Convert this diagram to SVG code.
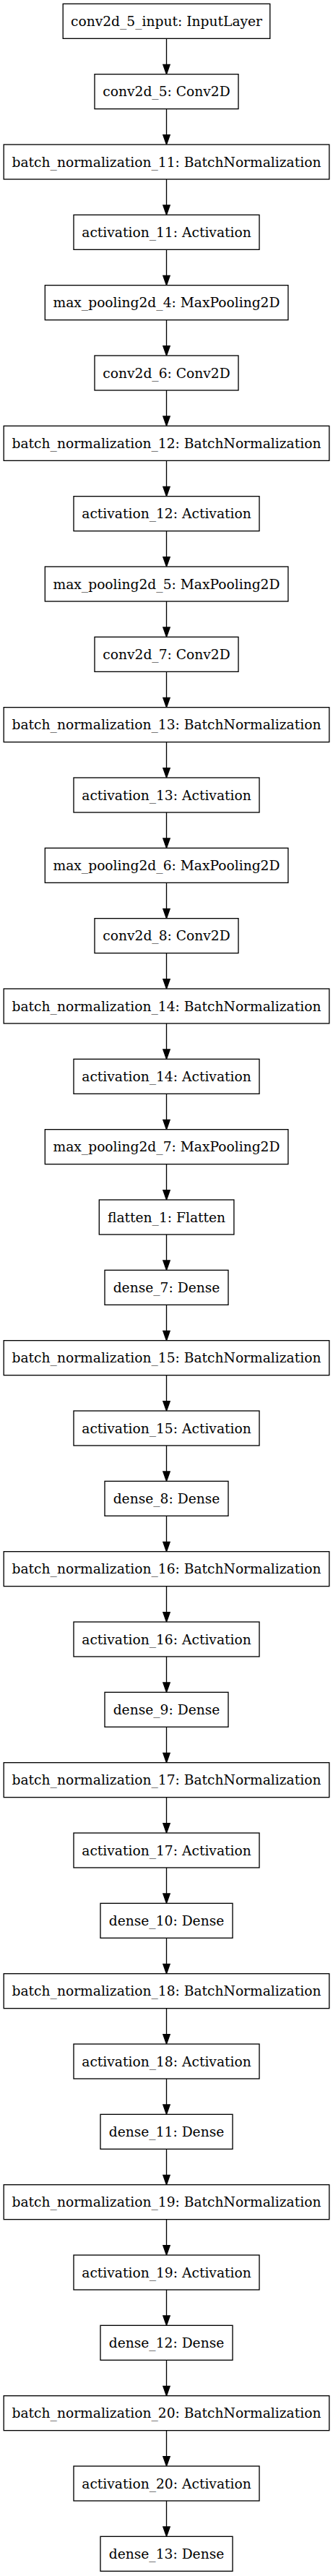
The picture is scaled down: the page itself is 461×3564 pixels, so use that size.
<svg xmlns="http://www.w3.org/2000/svg" width="461" height="3564" viewBox="0 0 461 3564">
<style>
rect{fill:#fff;stroke:#000;stroke-width:1.33}
text{font-family:"DejaVu Serif",serif;font-size:18.67px;text-anchor:middle;fill:#000}
.e line{stroke:#000;stroke-width:1.33}
</style>
<defs>
<marker id="ah" markerUnits="userSpaceOnUse" markerWidth="14" markerHeight="10" refX="0" refY="4.67" orient="auto" overflow="visible">
<path d="M0,0 L13.33,4.67 L0,9.33 Z" fill="#000" stroke="#000" stroke-width="1.33"/>
</marker>
</defs>
<rect x="0" y="0" width="461" height="3564" style="stroke:none"/>
<g class="e" id="edges">
<line x1="230.5" y1="53.33" x2="230.5" y2="89.33" marker-end="url(#ah)"/>
<line x1="230.5" y1="150.67" x2="230.5" y2="186.67" marker-end="url(#ah)"/>
<line x1="230.5" y1="248.00" x2="230.5" y2="284.00" marker-end="url(#ah)"/>
<line x1="230.5" y1="345.33" x2="230.5" y2="381.33" marker-end="url(#ah)"/>
<line x1="230.5" y1="442.67" x2="230.5" y2="478.67" marker-end="url(#ah)"/>
<line x1="230.5" y1="540.00" x2="230.5" y2="576.00" marker-end="url(#ah)"/>
<line x1="230.5" y1="637.33" x2="230.5" y2="673.33" marker-end="url(#ah)"/>
<line x1="230.5" y1="734.67" x2="230.5" y2="770.67" marker-end="url(#ah)"/>
<line x1="230.5" y1="832.00" x2="230.5" y2="868.00" marker-end="url(#ah)"/>
<line x1="230.5" y1="929.33" x2="230.5" y2="965.33" marker-end="url(#ah)"/>
<line x1="230.5" y1="1026.67" x2="230.5" y2="1062.67" marker-end="url(#ah)"/>
<line x1="230.5" y1="1124.00" x2="230.5" y2="1160.00" marker-end="url(#ah)"/>
<line x1="230.5" y1="1221.33" x2="230.5" y2="1257.33" marker-end="url(#ah)"/>
<line x1="230.5" y1="1318.67" x2="230.5" y2="1354.67" marker-end="url(#ah)"/>
<line x1="230.5" y1="1416.00" x2="230.5" y2="1452.00" marker-end="url(#ah)"/>
<line x1="230.5" y1="1513.33" x2="230.5" y2="1549.33" marker-end="url(#ah)"/>
<line x1="230.5" y1="1610.67" x2="230.5" y2="1646.67" marker-end="url(#ah)"/>
<line x1="230.5" y1="1708.00" x2="230.5" y2="1744.00" marker-end="url(#ah)"/>
<line x1="230.5" y1="1805.33" x2="230.5" y2="1841.33" marker-end="url(#ah)"/>
<line x1="230.5" y1="1902.67" x2="230.5" y2="1938.67" marker-end="url(#ah)"/>
<line x1="230.5" y1="2000.00" x2="230.5" y2="2036.00" marker-end="url(#ah)"/>
<line x1="230.5" y1="2097.33" x2="230.5" y2="2133.33" marker-end="url(#ah)"/>
<line x1="230.5" y1="2194.67" x2="230.5" y2="2230.67" marker-end="url(#ah)"/>
<line x1="230.5" y1="2292.00" x2="230.5" y2="2328.00" marker-end="url(#ah)"/>
<line x1="230.5" y1="2389.33" x2="230.5" y2="2425.33" marker-end="url(#ah)"/>
<line x1="230.5" y1="2486.67" x2="230.5" y2="2522.67" marker-end="url(#ah)"/>
<line x1="230.5" y1="2584.00" x2="230.5" y2="2620.00" marker-end="url(#ah)"/>
<line x1="230.5" y1="2681.33" x2="230.5" y2="2717.33" marker-end="url(#ah)"/>
<line x1="230.5" y1="2778.67" x2="230.5" y2="2814.67" marker-end="url(#ah)"/>
<line x1="230.5" y1="2876.00" x2="230.5" y2="2912.00" marker-end="url(#ah)"/>
<line x1="230.5" y1="2973.33" x2="230.5" y2="3009.33" marker-end="url(#ah)"/>
<line x1="230.5" y1="3070.67" x2="230.5" y2="3106.67" marker-end="url(#ah)"/>
<line x1="230.5" y1="3168.00" x2="230.5" y2="3204.00" marker-end="url(#ah)"/>
<line x1="230.5" y1="3265.33" x2="230.5" y2="3301.33" marker-end="url(#ah)"/>
<line x1="230.5" y1="3362.67" x2="230.5" y2="3398.67" marker-end="url(#ah)"/>
<line x1="230.5" y1="3460.00" x2="230.5" y2="3496.00" marker-end="url(#ah)"/>
</g>
<g id="n0"><rect x="87.2" y="5.33" width="286.6" height="48"/><text x="230.5" y="35.83">conv2d_5_input: InputLayer</text></g>
<g id="n1"><rect x="131" y="102.67" width="199" height="48"/><text x="230.5" y="133.17">conv2d_5: Conv2D</text></g>
<g id="n2"><rect x="5.2" y="200.00" width="450.6" height="48"/><text x="230.5" y="230.50">batch_normalization_11: BatchNormalization</text></g>
<g id="n3"><rect x="102" y="297.33" width="257" height="48"/><text x="230.5" y="327.83">activation_11: Activation</text></g>
<g id="n4"><rect x="62.3" y="394.67" width="336.6" height="48"/><text x="230.5" y="425.17">max_pooling2d_4: MaxPooling2D</text></g>
<g id="n5"><rect x="131" y="492.00" width="199" height="48"/><text x="230.5" y="522.50">conv2d_6: Conv2D</text></g>
<g id="n6"><rect x="5.2" y="589.33" width="450.6" height="48"/><text x="230.5" y="619.83">batch_normalization_12: BatchNormalization</text></g>
<g id="n7"><rect x="102" y="686.67" width="257" height="48"/><text x="230.5" y="717.17">activation_12: Activation</text></g>
<g id="n8"><rect x="62.3" y="784.00" width="336.6" height="48"/><text x="230.5" y="814.50">max_pooling2d_5: MaxPooling2D</text></g>
<g id="n9"><rect x="131" y="881.33" width="199" height="48"/><text x="230.5" y="911.83">conv2d_7: Conv2D</text></g>
<g id="n10"><rect x="5.2" y="978.67" width="450.6" height="48"/><text x="230.5" y="1009.17">batch_normalization_13: BatchNormalization</text></g>
<g id="n11"><rect x="102" y="1076.00" width="257" height="48"/><text x="230.5" y="1106.50">activation_13: Activation</text></g>
<g id="n12"><rect x="62.3" y="1173.33" width="336.6" height="48"/><text x="230.5" y="1203.83">max_pooling2d_6: MaxPooling2D</text></g>
<g id="n13"><rect x="131" y="1270.67" width="199" height="48"/><text x="230.5" y="1301.17">conv2d_8: Conv2D</text></g>
<g id="n14"><rect x="5.2" y="1368.00" width="450.6" height="48"/><text x="230.5" y="1398.50">batch_normalization_14: BatchNormalization</text></g>
<g id="n15"><rect x="102" y="1465.33" width="257" height="48"/><text x="230.5" y="1495.83">activation_14: Activation</text></g>
<g id="n16"><rect x="62.3" y="1562.67" width="336.6" height="48"/><text x="230.5" y="1593.17">max_pooling2d_7: MaxPooling2D</text></g>
<g id="n17"><rect x="137.3" y="1660.00" width="186.6" height="48"/><text x="230.5" y="1690.50">flatten_1: Flatten</text></g>
<g id="n18"><rect x="145" y="1757.33" width="171" height="48"/><text x="230.5" y="1787.83">dense_7: Dense</text></g>
<g id="n19"><rect x="5.2" y="1854.67" width="450.6" height="48"/><text x="230.5" y="1885.17">batch_normalization_15: BatchNormalization</text></g>
<g id="n20"><rect x="102" y="1952.00" width="257" height="48"/><text x="230.5" y="1982.50">activation_15: Activation</text></g>
<g id="n21"><rect x="145" y="2049.33" width="171" height="48"/><text x="230.5" y="2079.83">dense_8: Dense</text></g>
<g id="n22"><rect x="5.2" y="2146.67" width="450.6" height="48"/><text x="230.5" y="2177.17">batch_normalization_16: BatchNormalization</text></g>
<g id="n23"><rect x="102" y="2244.00" width="257" height="48"/><text x="230.5" y="2274.50">activation_16: Activation</text></g>
<g id="n24"><rect x="145" y="2341.33" width="171" height="48"/><text x="230.5" y="2371.83">dense_9: Dense</text></g>
<g id="n25"><rect x="5.2" y="2438.67" width="450.6" height="48"/><text x="230.5" y="2469.17">batch_normalization_17: BatchNormalization</text></g>
<g id="n26"><rect x="102" y="2536.00" width="257" height="48"/><text x="230.5" y="2566.50">activation_17: Activation</text></g>
<g id="n27"><rect x="139" y="2633.33" width="183" height="48"/><text x="230.5" y="2663.83">dense_10: Dense</text></g>
<g id="n28"><rect x="5.2" y="2730.67" width="450.6" height="48"/><text x="230.5" y="2761.17">batch_normalization_18: BatchNormalization</text></g>
<g id="n29"><rect x="102" y="2828.00" width="257" height="48"/><text x="230.5" y="2858.50">activation_18: Activation</text></g>
<g id="n30"><rect x="139" y="2925.33" width="183" height="48"/><text x="230.5" y="2955.83">dense_11: Dense</text></g>
<g id="n31"><rect x="5.2" y="3022.67" width="450.6" height="48"/><text x="230.5" y="3053.17">batch_normalization_19: BatchNormalization</text></g>
<g id="n32"><rect x="102" y="3120.00" width="257" height="48"/><text x="230.5" y="3150.50">activation_19: Activation</text></g>
<g id="n33"><rect x="139" y="3217.33" width="183" height="48"/><text x="230.5" y="3247.83">dense_12: Dense</text></g>
<g id="n34"><rect x="5.2" y="3314.67" width="450.6" height="48"/><text x="230.5" y="3345.17">batch_normalization_20: BatchNormalization</text></g>
<g id="n35"><rect x="102" y="3412.00" width="257" height="48"/><text x="230.5" y="3442.50">activation_20: Activation</text></g>
<g id="n36"><rect x="139" y="3509.33" width="183" height="48"/><text x="230.5" y="3539.83">dense_13: Dense</text></g>
</svg>
